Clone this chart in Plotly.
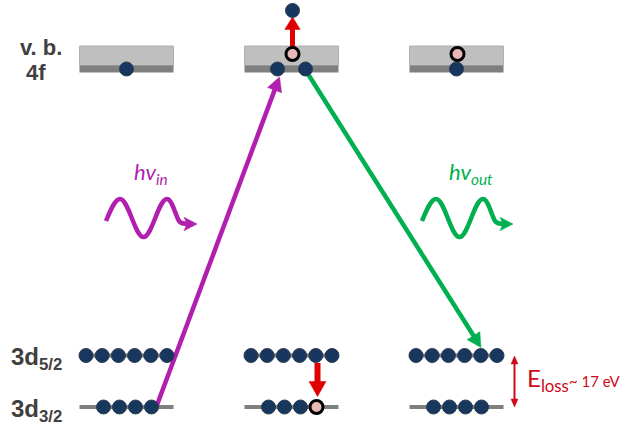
import math
import plotly.graph_objects as go

# ---------------- data (schematic levels, occupations) ----------------
panels = ["ground", "intermediate", "final"]
panel_x = [126.5, 291.5, 456.5]          # panel centres
level_y = {"vb_top": 46, "vb_band": 65.5, "vb_bot": 72.5,
           "4f": 69, "vb_hole": 54, "emitted": 10.5,
           "3d52": 355.5, "3d32": 407}
d52_count = [6, 6, 6]
d32_count = [4, 4, 4]
d32_hole_slot = [None, 3, None]
f4_electron_offsets = [[0], [-14, 14], [0]]
vb_hole = [False, True, True]
photoelectron = [False, True, False]
loss_label = "E<sub>loss</sub><span style='font-size:15px'>~ 17 eV</span>"
photon_in = "<i>hv<sub>in</sub></i>"
photon_out = "<i>hv<sub>out</sub></i>"

NAVY = "#17375E"
HOLE = "#E6B9B8"
PURPLE = "#B01FAE"
GREEN = "#00B050"
RED = "#E00000"
DRED = "#CC0A1A"
LGRAY = "#BFBFBF"
DGRAY = "#7F7F7F"
TXT = "#404040"

W, H = 624, 429
box_half = 47
step52, step32 = 16.2, 16.0

fig = go.Figure()
shapes = []

# ---------------- level boxes / lines ----------------
for c in panel_x:
    shapes.append(dict(type="rect", x0=c - box_half, x1=c + box_half,
                       y0=level_y["vb_top"], y1=level_y["vb_band"],
                       fillcolor=LGRAY, line=dict(color="#B0B0B0", width=1), layer="below"))
    shapes.append(dict(type="rect", x0=c - box_half, x1=c + box_half,
                       y0=level_y["vb_band"], y1=level_y["vb_bot"],
                       fillcolor=DGRAY, line=dict(width=0), layer="below"))
    for key in ("3d52", "3d32"):
        shapes.append(dict(type="line", x0=c - box_half, x1=c + box_half,
                           y0=level_y[key], y1=level_y[key],
                           line=dict(color=DGRAY, width=4), layer="below"))


def arrow(x0, y0, x1, y1, width, head_w, head_l, color, both=False, notch=0):
    dx, dy = x1 - x0, y1 - y0
    L = math.hypot(dx, dy)
    ux, uy = dx / L, dy / L
    sx0, sy0 = x0, y0
    if both:
        sx0, sy0 = x0 + ux * (head_l - 1), y0 + uy * (head_l - 1)
    sx1, sy1 = x1 - ux * (head_l - 1), y1 - uy * (head_l - 1)
    shapes.append(dict(type="line", x0=sx0, y0=sy0, x1=sx1, y1=sy1,
                       line=dict(color=color, width=width), layer="below"))

    def head(tx, ty, vx, vy):
        bx, by = tx - vx * head_l, ty - vy * head_l
        px, py = -vy, vx
        p1 = (bx + px * head_w / 2, by + py * head_w / 2)
        p2 = (bx - px * head_w / 2, by - py * head_w / 2)
        pn = (bx + vx * notch, by + vy * notch)
        path = (f"M {tx},{ty} L {p1[0]},{p1[1]} L {pn[0]},{pn[1]} "
                f"L {p2[0]},{p2[1]} Z")
        shapes.append(dict(type="path", path=path, fillcolor=color,
                           line=dict(color=color, width=0.5), layer="below"))

    head(x1, y1, ux, uy)
    if both:
        head(x0, y0, -ux, -uy)


# transitions
arrow(157, 405, 279.5, 77, 4.5, 15, 14, PURPLE)
arrow(308, 74, 481, 347.5, 4.5, 15, 14, GREEN)
arrow(292.5, 47, 292.5, 17, 5, 15.5, 12.5, RED)
arrow(317.5, 363, 317.5, 396.5, 6, 17, 15, RED)
arrow(514.5, 356, 514.5, 407, 2, 7, 8, DRED, both=True)


# photon waves
def wave(x0, color):
    y0 = 221
    p = (f"M {x0},{y0} C {x0+4.5},{210} {x0+9},{199} {x0+14},{199} "
         f"C {x0+22.5},{199} {x0+29},{237} {x0+37.5},{237} "
         f"C {x0+46},{237} {x0+52.5},{199} {x0+61},{199} "
         f"C {x0+66},{199} {x0+69},{214} {x0+73},{221} "
         f"C {x0+75},{223.5} {x0+78},{224} {x0+82},{224}")
    shapes.append(dict(type="path", path=p, line=dict(color=color, width=4.5),
                       layer="below"))
    arrow(x0 + 80, 224, x0 + 91, 224, 4.5, 13.5, 13, color, notch=3)


wave(106, PURPLE)
wave(422, GREEN)

# ---------------- electrons & holes ----------------
ex, ey, hx, hy = [], [], [], []
for i, c in enumerate(panel_x):
    n = d52_count[i]
    for k in range(n):
        ex.append(c + (k - (n - 1) / 2) * step52)
        ey.append(level_y["3d52"])
    n = d32_count[i]
    for k in range(n):
        x = c + 1 + (k - (n - 1) / 2) * step32
        if d32_hole_slot[i] == k:
            hx.append(x); hy.append(level_y["3d32"])
        else:
            ex.append(x); ey.append(level_y["3d32"])
    for off in f4_electron_offsets[i]:
        ex.append(c + off); ey.append(level_y["4f"])
    if vb_hole[i]:
        hx.append(c + 1); hy.append(level_y["vb_hole"])
    if photoelectron[i]:
        ex.append(c + 1); ey.append(level_y["emitted"])

fig.add_trace(go.Scatter(x=ex, y=ey, mode="markers", hoverinfo="skip",
                         marker=dict(size=14, color=NAVY,
                                     line=dict(color="#2E3D52", width=1))))
fig.add_trace(go.Scatter(x=hx, y=hy, mode="markers", hoverinfo="skip",
                         marker=dict(size=13, color=HOLE,
                                     line=dict(color="black", width=3))))

# ---------------- texts ----------------
lab_font = dict(family="Liberation Sans, Arial", size=22, color=TXT)
ann = [
    dict(x=41, y=47, text="<b>v. b.</b>", xanchor="center", yanchor="middle", font=lab_font),
    dict(x=36, y=72, text="<b>4f</b>", xanchor="center", yanchor="middle", font=lab_font),
    dict(x=9, y=358, text="<b>3d<sub>5/2</sub></b>", xanchor="left", yanchor="middle",
         font=dict(family="Liberation Sans, Arial", size=24, color=TXT)),
    dict(x=9, y=410, text="<b>3d<sub>3/2</sub></b>", xanchor="left", yanchor="middle",
         font=dict(family="Liberation Sans, Arial", size=24, color=TXT)),
    dict(x=132, y=173, text=photon_in, xanchor="left", yanchor="middle",
         font=dict(family="Lato", size=22, color=PURPLE)),
    dict(x=447, y=173, text=photon_out, xanchor="left", yanchor="middle",
         font=dict(family="Lato", size=22, color=GREEN)),
    dict(x=525, y=379, text=loss_label, xanchor="left", yanchor="middle",
         font=dict(family="Lato", size=24, color=DRED)),
]
for a in ann:
    a.update(xref="x", yref="y", showarrow=False)

fig.update_layout(
    width=W, height=H, margin=dict(l=0, r=0, t=0, b=0),
    paper_bgcolor="white", plot_bgcolor="white", showlegend=False,
    shapes=shapes, annotations=ann,
    xaxis=dict(range=[0, W], visible=False, fixedrange=True),
    yaxis=dict(range=[H, 0], visible=False, fixedrange=True),
)
fig.write_html("out.html", config={"displayModeBar": False},
               post_script="document.body.style.margin='0';"
                           "document.body.style.overflow='hidden';")
